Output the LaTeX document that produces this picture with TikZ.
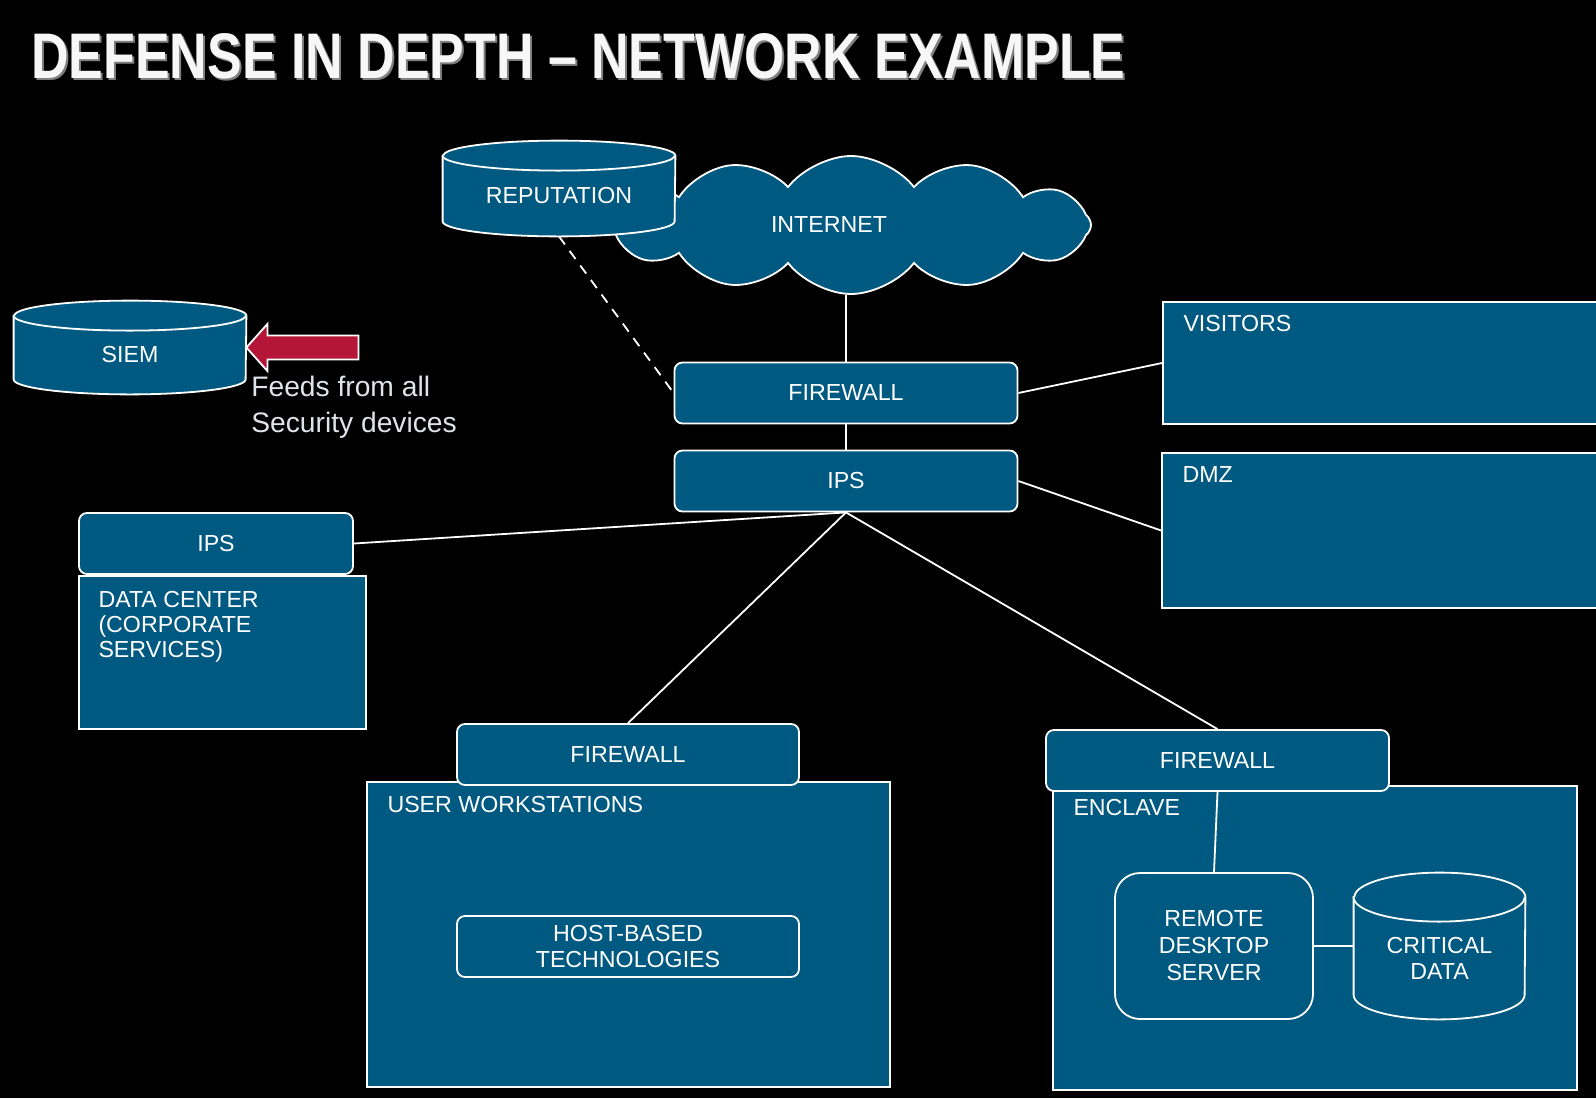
\documentclass[tikz,border=0pt]{standalone}
\usepackage{fontspec}
\setmainfont{Liberation Sans}
\usetikzlibrary{shapes.symbols,positioning}
\definecolor{netblue}{RGB}{0,89,129}
\definecolor{feedred}{RGB}{181,21,56}
\definecolor{feedgray}{RGB}{222,228,234}
\newcommand{\lbl}{\fontsize{11.6}{13.5}\selectfont}
% cylinder round a plain node: name, x radius, y radius
\newcommand{\drawdb}[3]{%
  \filldraw[dbline] (#1.north west) -- ([yshift=#3]#1.south west)
    arc[start angle=180, end angle=360, x radius=#2, y radius=#3]
    -- (#1.north east) arc[start angle=0, end angle=180, x radius=#2, y radius=#3] -- cycle;
  \draw[dbline] (#1.north west) arc[start angle=180, end angle=360, x radius=#2, y radius=#3];
}

\begin{document}
\begin{tikzpicture}[
  x=0.5pt, y=-0.5pt,
  every node/.style={font=\lbl, text=white},
  dev/.style={draw=white, fill=netblue, line width=0.9pt, rounded corners=4pt,
    minimum width=171.5pt, minimum height=30.5pt},
  zone/.style={draw=white, fill=netblue, line width=0.9pt, inner sep=0pt},
  zonetext/.style={inner sep=0pt, align=left, node distance=7pt and 10.5pt},
  dbbox/.style={inner sep=0pt, align=center},
  dbline/.style={draw=white, fill=netblue, line width=0.9pt},
  link/.style={draw=white, line width=0.9pt}
]
\fill[black] (0,0) rectangle (1596,1098);
\useasboundingbox (0,0) rectangle (1596,1098);

% title
\node[anchor=north west, inner sep=0pt, text=gray] at (33,35)
  {\resizebox{547pt}{22.5pt}{\bfseries DEFENSE IN DEPTH -- NETWORK EXAMPLE}};
\node[anchor=north west, inner sep=0pt, text=white!94!gray] (title) at (31,33)
  {\resizebox{547pt}{22.5pt}{\bfseries DEFENSE IN DEPTH -- NETWORK EXAMPLE}};

% internet and reputation
\node[cloud, cloud puffs=12, cloud puff arc=105, cloud ignores aspect,
  draw=white, fill=netblue, line width=0.9pt,
  minimum width=240pt, minimum height=69pt] (internet) at (851,225)
  {\hspace*{-22pt}INTERNET};
\node[dbbox, minimum width=116pt, minimum height=40pt] (rep) at (559,196) {};
\drawdb{rep}{58pt}{7.5pt}
\node at (rep) {REPUTATION};

% siem
\node[dbbox, minimum width=116pt, minimum height=39pt] (siem) at (130,355) {};
\drawdb{siem}{58pt}{7.5pt}
\node at (siem) {SIEM};
\fill[feedred, draw=white, line width=0.9pt] ([yshift=3.75pt]siem.east) -- ++(21,-23.5)
  -- ++(0,11.5) -- ++(91,0) -- ++(0,24) -- ++(-91,0) -- ++(0,11.5) -- cycle;
\node[anchor=north west, inner sep=0pt, align=left, text=feedgray,
  font=\fontsize{14.1}{18}\selectfont] (feeds) at (251,376)
  {Feeds from all\\Security devices};

% perimeter
\node[dev] (fwtop) at (846,393) {FIREWALL};
\node[dev] (ipstop) at (846,481) {IPS};
\node[zone, minimum width=228.5pt, minimum height=61pt] (vis) at (1391.5,363) {};
\node[zonetext, below right=of vis.north west] {VISITORS};
\node[zone, minimum width=229pt, minimum height=77.5pt] (dmz) at (1391,530.5) {};
\node[zonetext, below right=of dmz.north west] {DMZ};

% data center
\node[zone, minimum width=143.5pt, minimum height=76.5pt] (dc) at (222.5,652.5) {};
\node[zonetext, below right=8pt and 10pt of dc.north west, font=\fontsize{11.6}{12.5}\selectfont]
  {DATA CENTER\\(CORPORATE\\SERVICES)};
\node[dev, minimum width=137pt] (ipsdc) at (216,543.5) {IPS};

% user workstations
\node[zone, minimum width=261.5pt, minimum height=152.5pt] (ws) at (628.5,934.5) {};
\node[zonetext, below right=7.5pt and 10.5pt of ws.north west] {USER WORKSTATIONS};
\node[dev, minimum width=171pt] (fwws) at (628,754.5) {FIREWALL};
\node[dev, minimum width=171pt, align=center, font=\fontsize{11.6}{13}\selectfont]
  (hbt) at (628,946.5) {HOST-BASED\\TECHNOLOGIES};

% enclave
\node[zone, minimum width=262pt, minimum height=152pt] (en) at (1315,938) {};
\node[zonetext, below right=of en.north west] {ENCLAVE};
\node[dev] (fwen) at (1217.5,760.5) {FIREWALL};
\node[dev, rounded corners=12.5pt, minimum width=99pt, minimum height=73pt, align=center]
  (rds) at (1214,946) {REMOTE\\DESKTOP\\SERVER};
\node[dbbox, minimum width=85.5pt, minimum height=60.75pt] (crit) at (1439.5,958.25) {};
\drawdb{crit}{42.75pt}{12.25pt}
\node[align=center, font=\fontsize{11.6}{13}\selectfont] at (crit) {CRITICAL\\DATA};

% links
\draw[link] (fwtop.north) -- (fwtop.north |- internet.south);
\draw[link] (fwtop) -- (ipstop);
\draw[link] (fwtop.east) -- (vis.west);
\draw[link] (ipstop.east) -- (dmz.west);
\draw[link] (ipsdc.east) -- (ipstop.south);
\draw[link] (ipstop.south) -- (fwws.north);
\draw[link] (ipstop.south) -- (fwen.north);
\draw[link] (fwen.south) -- (rds.north);
\draw[link] (rds.east) -- (rds.east -| crit.west);
\draw[link, dashed, dash pattern=on 5pt off 4pt] (rep.south) -- (fwtop.west);
\end{tikzpicture}
\end{document}
